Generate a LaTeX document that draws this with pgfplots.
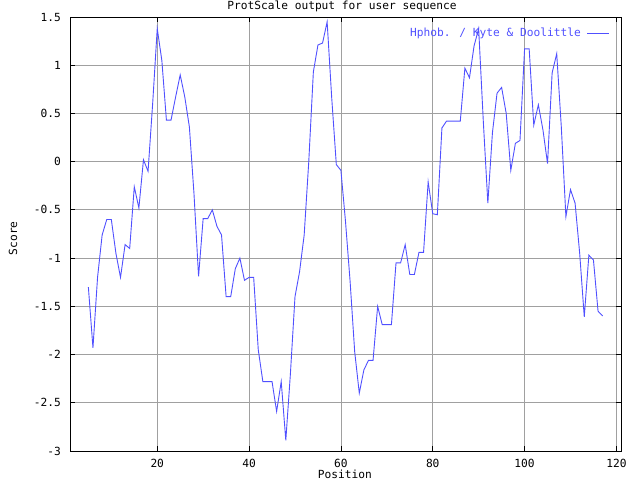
\documentclass[border=0pt]{standalone}
\usepackage{fontspec}
\setmainfont{DejaVu Sans Mono}
\usepackage{pgfplots}
\pgfplotsset{compat=1.18}
\definecolor{lineblue}{RGB}{80,80,255}
\definecolor{gridgray}{RGB}{160,160,160}
\begin{document}
\fontsize{11.2pt}{13pt}\selectfont
\begin{tikzpicture}[x=1pt,y=1pt]
\useasboundingbox (0,0) rectangle (640,480);
\begin{axis}[
  at={(70pt,29pt)}, anchor=south west,
  scale only axis, width=551pt, height=434pt,
  xmin=1, xmax=121, ymin=-3, ymax=1.5,
  xtick={20,40,60,80,100,120},
  xticklabels={20,40,60,80,100,120},
  ytick={-3,-2.5,-2,-1.5,-1,-0.5,0,0.5,1,1.5},
  yticklabels={-3,-2.5,-2,-1.5,-1,-0.5,0,0.5,1,1.5},
  tick align=inside, major tick length=5pt,
  tick style={black, line width=0.8pt},
  axis line style={black, line width=1pt},
  grid=major, grid style={gridgray, line width=0.8pt},
  yticklabel style={inner sep=0pt, xshift=-9pt, anchor=east},
  xticklabel style={inner sep=0pt, yshift=-8pt, anchor=north},
  every axis title shift=0pt,
  title={ProtScale output for user sequence},
  title style={at={(axis description cs:0.4936,1.0253)}, anchor=center, inner sep=0pt},
  xlabel={Position},
  xlabel style={at={(axis description cs:0.499,-0.0530)}, anchor=center, inner sep=0pt},
  ylabel={Score},
  ylabel style={at={(axis description cs:-0.1034,0.49)}, anchor=center, inner sep=0pt},
  legend plot pos=right,
  legend image code/.code={\draw[#1] (0pt,0pt) -- (22pt,0pt);},
  legend style={draw=none, fill=none, at={(axis description cs:0.98,0.963)}, anchor=east, inner sep=0pt, column sep=4pt, cells={anchor=east}},
]
\addplot[lineblue, line width=0.9pt, mark=none] coordinates {
(5,-1.30) (6,-1.93) (7,-1.20) (8,-0.76) (9,-0.60) (10,-0.60)
(11,-0.95) (12,-1.20) (13,-0.86) (14,-0.90) (15,-0.26) (16,-0.48)
(17,0.02) (18,-0.10) (19,0.60) (20,1.38) (21,1.05) (22,0.43)
(23,0.43) (24,0.67) (25,0.90) (26,0.67) (27,0.36) (28,-0.33)
(29,-1.19) (30,-0.59) (31,-0.59) (32,-0.50) (33,-0.67) (34,-0.76)
(35,-1.40) (36,-1.40) (37,-1.11) (38,-1.00) (39,-1.23) (40,-1.20)
(41,-1.20) (42,-1.95) (43,-2.28) (44,-2.28) (45,-2.28) (46,-2.59)
(47,-2.28) (48,-2.89) (49,-2.20) (50,-1.40) (51,-1.14) (52,-0.76)
(53,0.00) (54,0.93) (55,1.21) (56,1.23) (57,1.45) (58,0.66)
(59,-0.03) (60,-0.09) (61,-0.62) (62,-1.24) (63,-1.97) (64,-2.40)
(65,-2.16) (66,-2.06) (67,-2.06) (68,-1.50) (69,-1.69) (70,-1.69)
(71,-1.69) (72,-1.05) (73,-1.05) (74,-0.86) (75,-1.17) (76,-1.17)
(77,-0.94) (78,-0.94) (79,-0.21) (80,-0.54) (81,-0.55) (82,0.35)
(83,0.42) (84,0.42) (85,0.42) (86,0.42) (87,0.97) (88,0.87)
(89,1.20) (90,1.38) (91,0.43) (92,-0.43) (93,0.30) (94,0.71)
(95,0.77) (96,0.50) (97,-0.09) (98,0.19) (99,0.22) (100,1.17)
(101,1.17) (102,0.38) (103,0.59) (104,0.33) (105,-0.02) (106,0.92)
(107,1.12) (108,0.36) (109,-0.57) (110,-0.29) (111,-0.43) (112,-0.95)
(113,-1.61) (114,-0.97) (115,-1.02) (116,-1.55) (117,-1.60)
};
\addlegendentry{\textcolor{lineblue}{Hphob. / Kyte \& Doolittle}}
\end{axis}
\end{tikzpicture}
\end{document}
